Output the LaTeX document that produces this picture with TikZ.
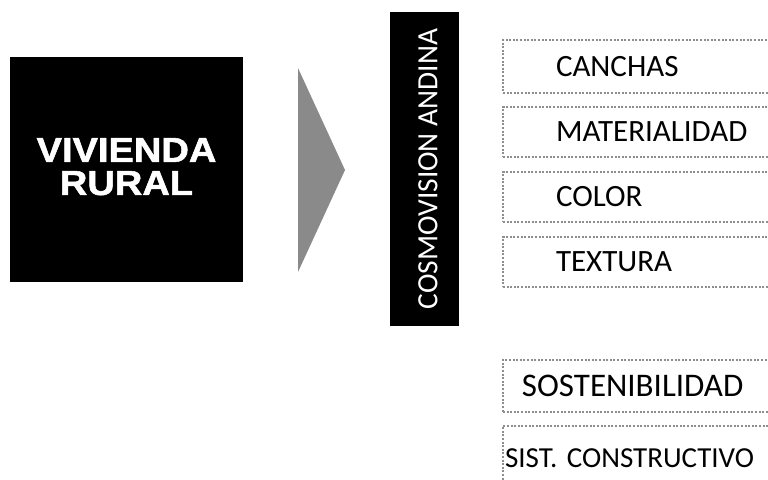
\documentclass[tikz,border=0pt]{standalone}
\usepackage{fontspec}
\setmainfont{Carlito}
\newfontfamily\blackfont[FakeStretch=1.1,FakeBold=1.6]{Liberation Sans}
\usetikzlibrary{positioning}
\definecolor{pointer}{HTML}{8A8A8A}
\definecolor{dots}   {HTML}{8E8E8E}
\frenchspacing

\begin{document}
\begin{tikzpicture}[x=0.5pt, y=-0.5pt,
    item/.style={draw=dots, line width=0.8pt, dash pattern=on 1pt off 0.8pt, outer sep=0pt,
      minimum height=25pt, text width=150pt, align=left, inner ysep=0pt, inner xsep=26.5pt,
      font=\fontsize{15.5}{18}\selectfont}]
      \clip (0,0) rectangle (768,479);
      \node[fill=black, text=white, minimum width=116.5pt, minimum height=112.5pt, align=center, text depth=3pt,
        font=\blackfont\bfseries\fontsize{17.3}{16.5}\selectfont] (vivienda) at (126.5,169.5) {VIVIENDA\\RURAL};
      \fill[pointer] (298,68) -- (345,170) -- (298,272) -- cycle;
      \node[fill=black, text=white, rotate=90, minimum width=157pt, minimum height=34.5pt, text height=13pt,
        font=\fontsize{14.7}{16}\selectfont] (cosmo) at (424.5,169) {COSMOVISION ANDINA};
      % aspectos
      \node[item, minimum height=26.5pt, anchor=north west] (canchas) at (503,40) {CANCHAS};
      \node[item, below=7pt of canchas.south west, anchor=north west] (material) {MATERIALIDAD};
      \node[item, below=7.5pt of material.south west, anchor=north west] (color) {COLOR};
      \node[item, below=7.5pt of color.south west, anchor=north west] (textura) {TEXTURA};
      \node[item, inner xsep=9.5pt, minimum height=26pt, font=\fontsize{16.5}{18}\selectfont,
        below=36.5pt of textura.south west, anchor=north west] (sosten) {SOSTENIBILIDAD};
      \node[item, inner xsep=1pt, minimum height=32pt, font=\fontsize{14.5}{17}\selectfont,
        below=7pt of sosten.south west, anchor=north west] (sistema) {SIST. CONSTRUCTIVO};
    \end{tikzpicture}
\end{document}
